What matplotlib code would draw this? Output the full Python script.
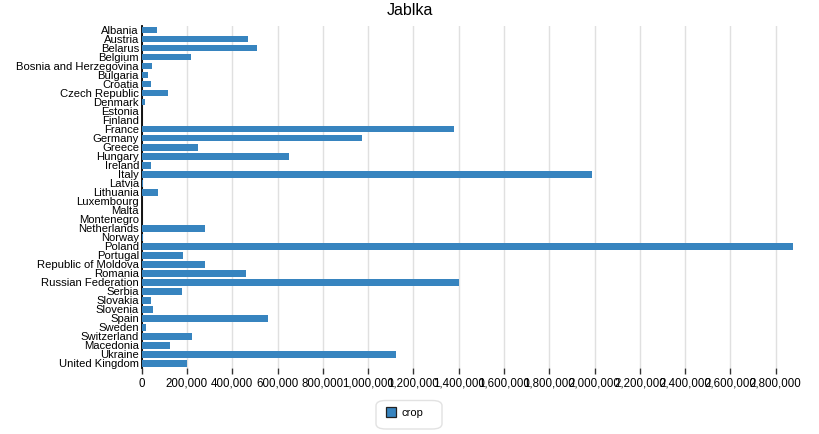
import numpy as np
import matplotlib.pyplot as plt
from matplotlib.ticker import FuncFormatter
from matplotlib.patches import FancyBboxPatch, Rectangle

plt.rcParams['font.family'] = ['Liberation Sans', 'DejaVu Sans']

countries = ['Albania', 'Austria', 'Belarus', 'Belgium', 'Bosnia and Herzegovina',
             'Bulgaria', 'Croatia', 'Czech Republic', 'Denmark', 'Estonia', 'Finland',
             'France', 'Germany', 'Greece', 'Hungary', 'Ireland', 'Italy', 'Latvia',
             'Lithuania', 'Luxembourg', 'Malta', 'Montenegro', 'Netherlands', 'Norway',
             'Poland', 'Portugal', 'Republic of Moldova', 'Romania', 'Russian Federation',
             'Serbia', 'Slovakia', 'Slovenia', 'Spain', 'Sweden', 'Switzerland',
             'Macedonia', 'Ukraine', 'United Kingdom']
crop = [67600, 469000, 509000, 217500, 47000,
        26500, 39700, 114700, 16000, 1000, 1500,
        1381000, 970700, 248000, 648500, 41000, 1990000, 4400,
        70600, 500, 300, 3000, 278000, 7000,
        2877000, 182000, 278000, 460000, 1401000,
        176500, 41000, 51000, 556000, 19000, 223000,
        123500, 1125000, 200000]
xticks = np.arange(0, 2800001, 200000)

W, H = 819, 434
fig = plt.figure(figsize=(W / 100, H / 100), dpi=100)
ax = fig.add_axes([141.7 / W, 1 - 368 / H, (795 - 141.7) / W, (368 - 25.5) / H])

y = np.arange(len(countries))
ax.barh(y, crop, height=0.74, color='#3784bf', zorder=3)
ax.set_ylim(len(countries) - 0.5, -0.5)
ax.set_xlim(0, 2885000)
ax.set_yticks(y)
ax.set_yticklabels(countries, fontsize=8.1)
ax.set_xticks(xticks)
ax.xaxis.set_major_formatter(FuncFormatter(lambda v, p: f'{int(v):,}'))
ax.tick_params(axis='x', labelsize=8.3, length=4.5, width=1, direction='out',
               color='#333333', pad=2.5)
ax.tick_params(axis='y', length=0, pad=2)
ax.grid(axis='x', color='#e0e0e0', linewidth=1, zorder=0)
for s in ['top', 'right', 'bottom']:
    ax.spines[s].set_visible(False)
ax.spines['left'].set_color('black')
ax.spines['left'].set_linewidth(1.3)

fig.text(410 / W, 1 - 10.5 / H, 'Jablka', ha='center', va='center', fontsize=11.5)

# legend box
box = FancyBboxPatch((376 / W, 1 - 429 / H), 66 / W, 28.5 / H,
                     boxstyle='round,pad=0,rounding_size=0.012',
                     transform=fig.transFigure, facecolor='white',
                     edgecolor='#e2e2e2', linewidth=1)
fig.patches.append(box)
fig.patches.append(Rectangle((386 / W, 1 - 417 / H), 10 / W, 10 / H,
                             transform=fig.transFigure, facecolor='#3784bf',
                             edgecolor='#222222', linewidth=0.9))
fig.text(401 / W, 1 - 412.5 / H, 'crop', ha='left', va='center', fontsize=8)

fig.savefig('out.png', dpi=100)
